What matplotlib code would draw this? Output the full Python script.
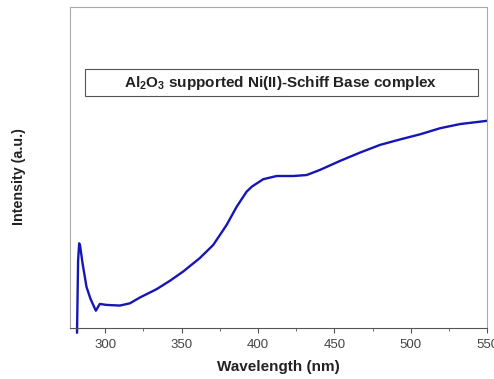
#!/usr/bin/env python3

import matplotlib.pyplot as plt
from matplotlib.patches import Rectangle
from matplotlib.ticker import MultipleLocator, NullLocator

plt.rcParams['font.family'] = ['Liberation Sans', 'DejaVu Sans']
plt.rcParams['mathtext.fontset'] = 'custom'
plt.rcParams['mathtext.rm'] = 'Liberation Sans'
plt.rcParams['mathtext.bf'] = 'Liberation Sans:bold'

# UV-vis DRS spectrum (intensity in arbitrary units)
wavelength = [281.6, 282.3, 283.0, 283.6, 285.2, 287.8, 290.4, 293.9, 296.5,
              300.9, 309.6, 316.2, 322.7, 333.6, 342.3, 351.0, 361.9, 370.7,
              379.4, 386.0, 392.5, 396.0, 403.4, 412.2, 423.0, 431.8, 440.5,
              453.6, 466.7, 479.8, 492.9, 506.0, 519.1, 532.2, 549.6]
intensity = [-1.5, 21.0, 26.3, 25.6, 20.1, 12.7, 9.0, 5.3, 7.4,
             7.1, 6.9, 7.6, 9.4, 12.0, 14.6, 17.5, 21.7, 25.8,
             32.0, 37.7, 42.4, 44.0, 46.3, 47.3, 47.3, 47.6, 49.2,
             52.0, 54.6, 57.0, 58.7, 60.3, 62.2, 63.5, 64.5]

label = r'Al$_\mathbf{2}$O$_\mathbf{3}$ supported Ni(II)-Schiff Base complex'

fig = plt.figure(figsize=(4.94, 3.79), dpi=100)
ax = fig.add_axes([0.1417, 0.1354, 0.8448, 0.8461])

ax.plot(wavelength, intensity, color='#1616b4', lw=1.7, clip_on=False)

ax.set_xlim(277, 550)
ax.set_ylim(0, 100)
ax.xaxis.set_major_locator(MultipleLocator(50))
ax.xaxis.set_minor_locator(MultipleLocator(25))
ax.yaxis.set_major_locator(NullLocator())
ax.tick_params(axis='x', which='major', direction='out', length=3.5,
               labelsize=9.5, labelcolor='#444444', color='#555555', pad=5)
ax.tick_params(axis='x', which='minor', direction='out', length=2,
               color='#555555')
for side in ['top', 'right', 'left']:
    ax.spines[side].set_color('#aaaaaa')
ax.spines['bottom'].set_color('#555555')

ax.set_xlabel('Wavelength (nm)', fontsize=11, fontweight='bold',
              color='#222222', labelpad=6)
ax.set_ylabel('Intensity (a.u.)', fontsize=10.3, fontweight='bold',
              color='#222222')
ax.yaxis.set_label_coords(-0.106, 0.47)

# boxed sample label
fig.add_artist(Rectangle((85.3 / 494, 1 - 95.7 / 379), 393 / 494, 26.4 / 379,
                         transform=fig.transFigure, fc='white', ec='#555555',
                         lw=0.8))
fig.text(280.5 / 494, 1 - 82.5 / 379, label, ha='center', va='center',
         fontsize=11, fontweight='bold', color='#222222')

fig.savefig('out.png', dpi=100)
